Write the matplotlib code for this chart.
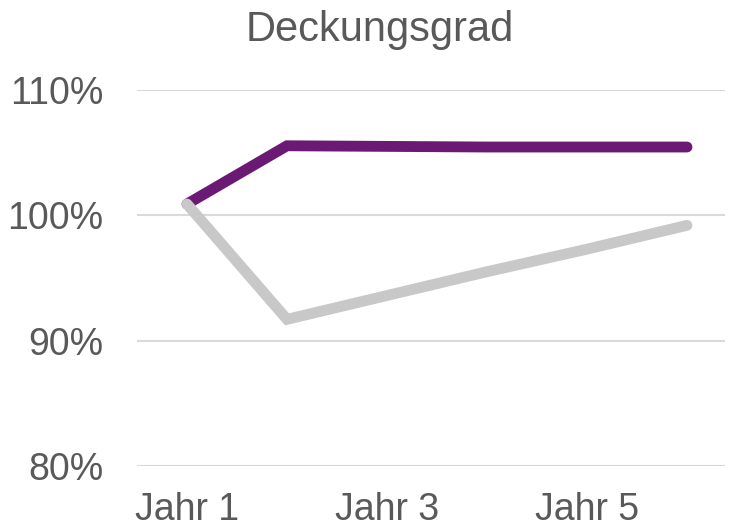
import numpy as np
import matplotlib.pyplot as plt
from matplotlib.ticker import PercentFormatter

plt.rcParams['font.family'] = ['Liberation Sans', 'DejaVu Sans']

# Daten
jahre = ['Jahr 1', 'Jahr 2', 'Jahr 3', 'Jahr 4', 'Jahr 5', 'Jahr 6']
reihe_lila = [100.9, 105.55, 105.5, 105.45, 105.45, 105.45]
reihe_grau = [100.9, 91.7, 93.6, 95.5, 97.3, 99.2]
y_ticks = [80, 90, 100, 110]

text_col = '#595959'

fig = plt.figure(figsize=(7.31, 5.30), dpi=100)
ax = fig.add_axes([0.1874, 0.1208, 0.8044, 0.7094])

x = np.arange(len(jahre))
ax.plot(x, reihe_grau, color='#C8C8C8', lw=7.8, solid_capstyle='round', solid_joinstyle='miter', zorder=3)
ax.plot(x, reihe_lila, color='#6B1A73', lw=7.8, solid_capstyle='round', solid_joinstyle='miter', zorder=2)

ax.set_xlim(-0.5, 5.38)
ax.set_ylim(80, 110)
ax.set_yticks(y_ticks)
ax.yaxis.set_major_formatter(PercentFormatter(decimals=0))
ax.set_xticks(x[::2])
ax.set_xticklabels(jahre[::2])

ax.grid(axis='y', color='#D9D9D9', lw=1.5)
ax.set_axisbelow(True)
for s in ax.spines.values():
    s.set_visible(False)
ax.tick_params(length=0, labelsize=27, labelcolor=text_col)
ax.tick_params(axis='y', pad=24)
ax.tick_params(axis='x', pad=19)

fig.text(0.52, 1 - 41 / 530, 'Deckungsgrad', ha='center', va='baseline', fontsize=30, color=text_col)

fig.savefig('out.png', dpi=100)
